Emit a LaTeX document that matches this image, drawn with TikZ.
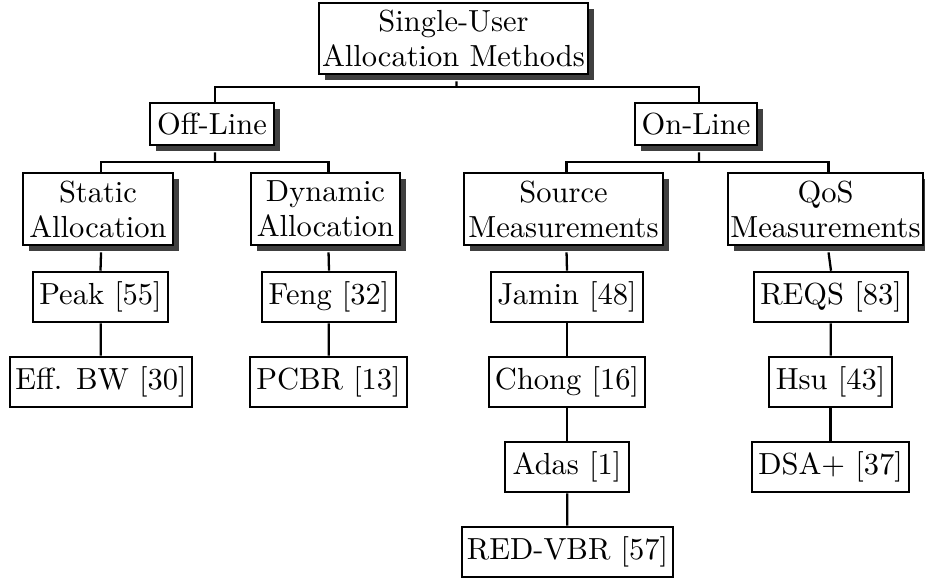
\documentclass[tikz,border=0pt]{standalone}
\usetikzlibrary{shadows}
\begin{document}
\begin{tikzpicture}[x=0.3279pt,y=-0.3279pt,
  sz/.style 2 args={minimum width=#1*0.3279pt, minimum height=#2*0.3279pt},
  catbox/.style={draw, line width=0.85pt, fill=white, inner sep=0pt, align=center,
     font=\fontsize{10}{11.5}\selectfont,
     drop shadow={shadow xshift=2pt, shadow yshift=-2pt, fill=black!75, opacity=1}},
  leafbox/.style={draw, line width=0.85pt, fill=white, inner sep=0pt, align=center},
  link/.style={line width=0.75pt}]
\useasboundingbox (0,0) rectangle (925,578);
% category boxes
\node[catbox, sz={269}{71}] (root) at (453.5,38.5) {Single-User\\Allocation Methods};
\node[catbox, sz={124}{42}] (off) at (212,124) {Off-Line};
\node[catbox, sz={122}{42}] (on) at (696,124) {On-Line};
\node[catbox, sz={150}{72}] (stat) at (98,209) {Static\\Allocation};
\node[catbox, sz={149}{72}] (dyn) at (325.5,209) {Dynamic\\Allocation};
\node[catbox, sz={199}{72}] (src) at (563.5,209) {Source\\Measurements};
\node[catbox, sz={195}{72}] (qos) at (825.5,209) {QoS\\Measurements};
% leaves
\node[leafbox, sz={135}{50}] (peak) at (100.5,297) {Peak [55]};
\node[leafbox, sz={182}{50}] (eff) at (101,382) {Eff. BW [30]};
\node[leafbox, sz={134}{50}] (feng) at (329,297) {Feng [32]};
\node[leafbox, sz={157}{50}] (pcbr) at (328.5,382) {PCBR [13]};
\node[leafbox, sz={152}{50}] (jamin) at (567,297) {Jamin [48]};
\node[leafbox, sz={156}{50}] (chong) at (567,382) {Chong [16]};
\node[leafbox, sz={124}{50}] (adas) at (567,467) {Adas [1]};
\node[leafbox, sz={211}{50}] (red) at (567.5,552) {RED-VBR [57]};
\node[leafbox, sz={154}{50}] (reqs) at (831,297) {REQS [83]};
\node[leafbox, sz={123}{50}] (hsu) at (830.5,382) {Hsu [43]};
\node[leafbox, sz={157}{50}] (dsa) at (830.5,467) {DSA+ [37]};
% junctions
\coordinate (rj) at (456.5,87);
\coordinate (offj) at (215,162);
\coordinate (onj) at (699,162);
% connectors
\draw[link] ([xshift=1pt,yshift=-2pt]root.south) -- (rj);
\draw[link] ([xshift=1pt]off.north) |- (rj) -| ([xshift=1pt]on.north);
\draw[link] ([xshift=1pt,yshift=-2pt]off.south) -- (offj);
\draw[link] ([xshift=1pt]stat.north) |- (offj) -| ([xshift=1pt]dyn.north);
\draw[link] ([xshift=1pt,yshift=-2pt]on.south) -- (onj);
\draw[link] ([xshift=1pt]src.north) |- (onj) -| ([xshift=1pt]qos.north);
\draw[link] ([xshift=1pt,yshift=-2pt]stat.south) -- (peak.north);
\draw[link] (peak) -- (eff);
\draw[link] ([xshift=1pt,yshift=-2pt]dyn.south) -- (feng.north);
\draw[link] (feng) -- (pcbr);
\draw[link] ([xshift=1pt,yshift=-2pt]src.south) -- (jamin.north);
\draw[link] (jamin) -- (chong);
\draw[link] (chong) -- (adas);
\draw[link] (adas) -- (red);
\draw[link] ([xshift=1pt,yshift=-2pt]qos.south) -- (reqs.north);
\draw[link] (reqs) -- (hsu);
\draw[link] (hsu) -- (dsa);
\end{tikzpicture}
\end{document}
